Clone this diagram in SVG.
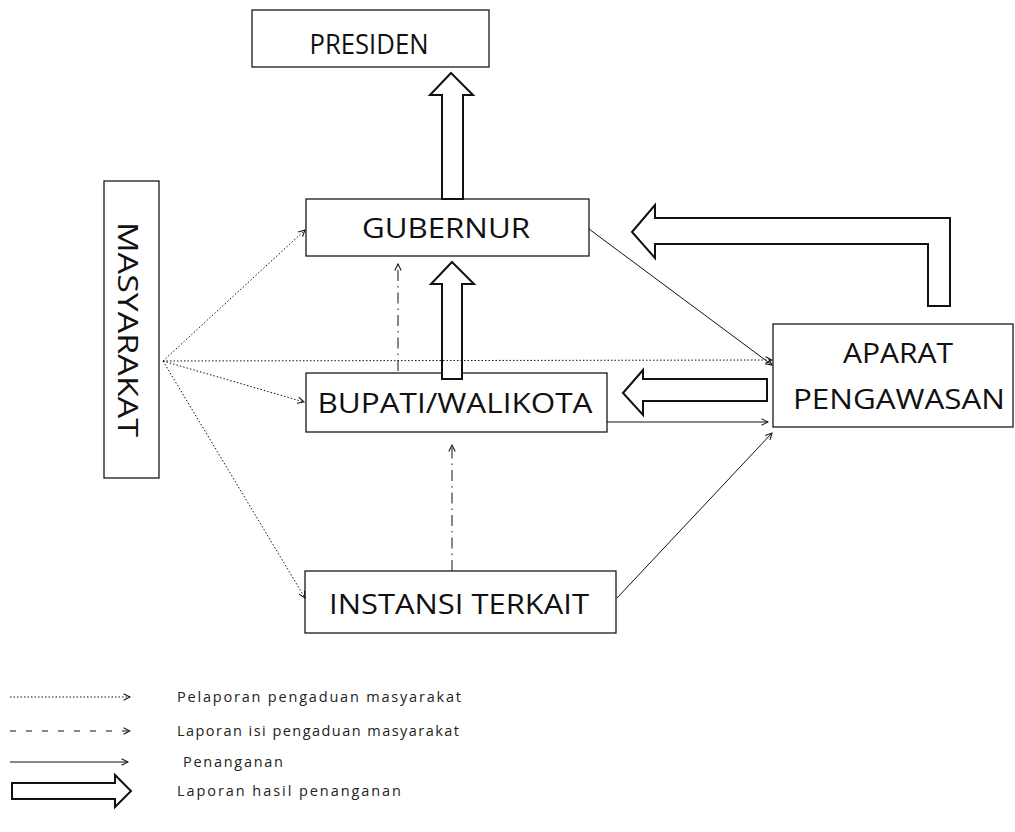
<svg xmlns="http://www.w3.org/2000/svg" width="1015" height="832" viewBox="0 0 1015 832">
  <style>
    .box { fill: #fff; stroke: #1a1a1a; stroke-width: 1.3; }
    .lbl { font-family: "Open Sans", "Liberation Sans", sans-serif; font-size: 27px; fill: #111; text-anchor: middle; }
    .leg { font-family: "Open Sans", "Liberation Sans", sans-serif; font-size: 14.5px; fill: #222; }
    .blk { fill: #fff; stroke: #111; stroke-width: 2; stroke-linejoin: miter; }
    .dot { fill: none; stroke: #111; stroke-width: 1; stroke-dasharray: 1.5 2; }
    .sol { fill: none; stroke: #111; stroke-width: 1; }
    .dd { fill: none; stroke: #111; stroke-width: 1; stroke-dasharray: 11 5 1.5 5; }
    .dsh { fill: none; stroke: #111; stroke-width: 1; stroke-dasharray: 6 10; }
  </style>
  <defs>
    <marker id="ah" viewBox="0 0 10 10" refX="9" refY="5" markerWidth="8" markerHeight="8" markerUnits="userSpaceOnUse" orient="auto">
      <path d="M1,1 L9,5 L1,9" fill="none" stroke="#111" stroke-width="1.3"/>
    </marker>
  </defs>
  <rect width="1015" height="832" fill="#fff"/>

  <g id="presiden">
    <rect class="box" x="252" y="10" width="237" height="57"/>
    <text class="lbl" x="369" y="54" textLength="119" lengthAdjust="spacingAndGlyphs">PRESIDEN</text>
  </g>
  <g id="gubernur">
    <rect class="box" x="306" y="199" width="283" height="57"/>
    <text class="lbl" x="446" y="238" textLength="168" lengthAdjust="spacingAndGlyphs">GUBERNUR</text>
  </g>
  <g id="bupati">
    <rect class="box" x="306" y="373" width="301" height="59"/>
    <text class="lbl" x="455" y="413" textLength="275" lengthAdjust="spacingAndGlyphs">BUPATI/WALIKOTA</text>
  </g>
  <g id="instansi">
    <rect class="box" x="305" y="571" width="311" height="62"/>
    <text class="lbl" x="459" y="614" textLength="260" lengthAdjust="spacingAndGlyphs">INSTANSI TERKAIT</text>
  </g>
  <g id="aparat">
    <rect class="box" x="773" y="324" width="240" height="103"/>
    <text class="lbl" x="898" y="363" textLength="110" lengthAdjust="spacingAndGlyphs">APARAT</text>
    <text class="lbl" x="899" y="409" textLength="212" lengthAdjust="spacingAndGlyphs">PENGAWASAN</text>
  </g>
  <g id="masyarakat">
    <rect class="box" x="104" y="181" width="55" height="297"/>
    <text class="lbl" x="118" y="329.5" transform="rotate(90 118 329.5)" textLength="215" lengthAdjust="spacingAndGlyphs">MASYARAKAT</text>
  </g>

  <g id="block-arrows">
    <path class="blk" d="M451,73 L473,95 L463,95 L463,199 L442,199 L442,95 L430,95 Z"/>
    <path class="blk" d="M452,262 L474,284 L462,284 L462,379 L442,379 L442,284 L431,284 Z"/>
    <path class="blk" d="M632,232 L655,205 L655,218 L950,218 L950,306 L928,306 L928,244 L655,244 L655,258 Z"/>
    <path class="blk" d="M623,393 L643,370 L643,379 L767,379 L767,401 L643,401 L643,415 Z"/>
  </g>

  <g id="connectors">
    <line class="dot" x1="163" y1="361" x2="305" y2="230" marker-end="url(#ah)"/>
    <line class="dot" x1="163" y1="361" x2="772" y2="360" marker-end="url(#ah)"/>
    <line class="dot" x1="163" y1="361" x2="304" y2="402" marker-end="url(#ah)"/>
    <line class="dot" x1="163" y1="361" x2="305" y2="598" marker-end="url(#ah)"/>
    <line class="sol" x1="589" y1="229" x2="772" y2="365" marker-end="url(#ah)"/>
    <line class="sol" x1="607" y1="422" x2="768" y2="422" marker-end="url(#ah)"/>
    <line class="sol" x1="617" y1="598" x2="772" y2="433" marker-end="url(#ah)"/>
    <line class="dd" x1="398" y1="371" x2="398" y2="264" marker-end="url(#ah)"/>
    <line class="dd" x1="452" y1="571" x2="452" y2="445" marker-end="url(#ah)"/>
  </g>

  <g id="legend">
    <line class="dot" x1="10" y1="697" x2="130" y2="697" marker-end="url(#ah)"/>
    <text class="leg" x="177" y="702" textLength="284" lengthAdjust="spacing">Pelaporan pengaduan masyarakat</text>
    <line class="dsh" x1="10" y1="731" x2="130" y2="731" marker-end="url(#ah)"/>
    <text class="leg" x="177" y="736" textLength="282" lengthAdjust="spacing">Laporan isi pengaduan masyarakat</text>
    <line class="sol" x1="10" y1="762" x2="128" y2="762" marker-end="url(#ah)"/>
    <text class="leg" x="183" y="767" textLength="100" lengthAdjust="spacing">Penanganan</text>
    <path class="blk" d="M12,783 L115,783 L115,775 L131,791 L115,807 L115,799 L12,799 Z"/>
    <text class="leg" x="177" y="796" textLength="224" lengthAdjust="spacing">Laporan hasil penanganan</text>
  </g>
</svg>
